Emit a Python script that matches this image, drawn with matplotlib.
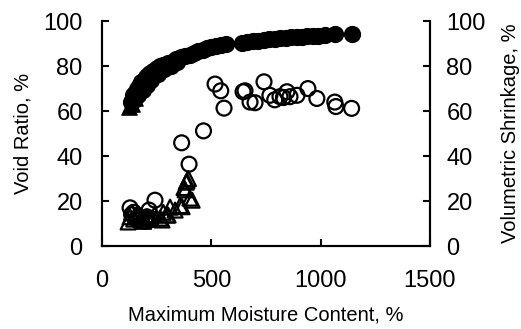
import matplotlib
matplotlib.use("Agg")
import matplotlib.pyplot as plt

plt.rcParams['font.family'] = ['Liberation Sans', 'DejaVu Sans']

# Void ratio (filled circles)
vr_x = [130, 140, 150, 160, 170, 180, 190, 200, 210, 220, 235, 250, 265, 280, 300, 320, 340, 360,
        380, 400, 420, 440, 460, 480, 500, 520, 545, 565,
        145, 165, 185, 205, 225, 255, 285, 315, 345,
        640, 665, 690, 715, 740, 765, 790, 815, 840, 865, 890, 915, 940, 965, 990, 1020, 1065, 1143]
vr_y = [64, 67, 68, 70, 71, 73, 74, 75, 76, 77, 78, 79, 80, 80.5, 81.5, 82, 83, 84,
        84.5, 85, 86, 86.5, 87, 88, 88.5, 89, 89.5, 90,
        65, 67, 69.5, 71.5, 74, 76.5, 78.5, 80, 82,
        90.3, 90.7, 91, 91.3, 91.6, 92, 92.2, 92.4, 92.6, 92.8, 93, 93.1, 93.2, 93.4, 93.5, 93.6, 94.2, 94.3]

# Void ratio (filled triangles)
vt_x = [125, 138, 150]
vt_y = [62, 63, 66]

# Volumetric shrinkage (open circles)
sc_x = [128, 135, 145, 155, 165, 180, 195, 205, 215, 219, 230, 242,
        364, 398, 464, 517, 543, 558, 645, 654, 677, 700, 741, 768, 790, 814, 830,
        846, 860, 892, 942, 983, 1065, 1070, 1142]
sc_y = [17, 14, 15, 12, 13, 12, 11, 13, 16, 11.6, 12, 20.4,
        45.9, 36.4, 51.2, 72, 69, 61.3, 68.6, 69, 64, 63.7, 73, 67, 65, 66.4, 66,
        68.6, 66.4, 67, 70, 65.6, 64, 62, 61.2]

# Volumetric shrinkage (open triangles)
st_x = [119, 128, 135, 145, 160, 175, 190, 205, 220, 240, 265, 274, 280, 297, 302, 311, 334, 357,
        366, 375, 380, 385, 388, 395, 402, 412]
st_y = [10.7, 13, 15, 12, 14, 12, 11, 13, 12, 14, 12.4, 11.6, 15, 13.8, 13.8, 17.3, 16, 18,
        17.5, 26, 25, 28.4, 29, 30, 21.3, 20.4]

fig = plt.figure(figsize=(5.21, 3.29), dpi=100)
ax = fig.add_axes([0.196, 0.252, 0.629, 0.684])
ax2 = ax.twinx()

ax.scatter(vr_x, vr_y, s=130, marker='o', color='black', zorder=3)
ax.scatter(vt_x, vt_y, s=120, marker='^', color='black', zorder=3)
ax2.scatter(sc_x, sc_y, s=115, marker='o', facecolors='none', edgecolors='black', linewidths=1.6, zorder=3)
ax2.scatter(st_x, st_y, s=115, marker='^', facecolors='none', edgecolors='black', linewidths=1.6, zorder=3)

for a in (ax, ax2):
    a.set_xlim(0, 1500)
    a.set_ylim(0, 100)
    a.spines['top'].set_visible(False)
    for s in a.spines.values():
        s.set_linewidth(1.5)
    a.tick_params(direction='in', length=5, width=1.5, labelsize=17)

ax.set_xticks([0, 500, 1000, 1500])
ax.set_yticks([0, 20, 40, 60, 80, 100])
ax2.set_yticks([0, 20, 40, 60, 80, 100])
ax.tick_params(axis='x', pad=17)
ax.tick_params(axis='y', pad=14)
ax2.tick_params(axis='y', pad=12)

ax.set_xlabel('Maximum Moisture Content, %', fontsize=14.5, labelpad=10)
ax.set_ylabel('Void Ratio, %', fontsize=14.5, labelpad=8)
ax2.set_ylabel('Volumetric Shrinkage, %', fontsize=14.5, labelpad=11)

fig.savefig('out.png', dpi=100)
